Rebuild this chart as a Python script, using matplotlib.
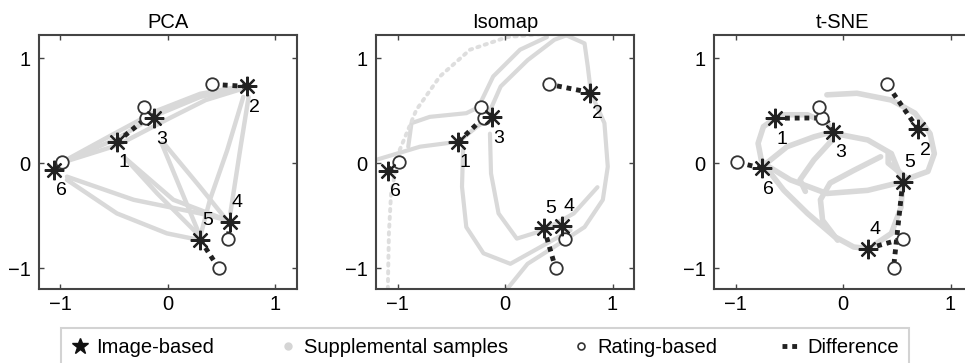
import matplotlib
matplotlib.use('Agg')
import matplotlib.pyplot as plt
from matplotlib.lines import Line2D

plt.rcParams['font.family'] = ['Liberation Sans', 'DejaVu Sans']

# point ids and where their number goes
point_ids = ['1', '2', '3', '4', '5', '6']
label_side = ['below', 'below', 'below', 'above', 'above', 'below']

# rating-based positions (same in every panel)
rate_x = [-0.20, 0.41, -0.22, 0.56, 0.47, -0.99]
rate_y = [0.43, 0.75, 0.53, -0.72, -1.00, 0.01]

# image-based positions per method
pca_x = [-0.475, 0.735, -0.127, 0.575, 0.30, -1.056]
pca_y = [0.20, 0.73, 0.427, -0.56, -0.73, -0.067]
iso_x = [-0.434, 0.794, -0.122, 0.534, 0.363, -1.084]
iso_y = [0.204, 0.672, 0.436, -0.60, -0.62, -0.076]
tsne_x = [-0.63, 0.70, -0.09, 0.23, 0.556, -0.756]
tsne_y = [0.427, 0.32, 0.30, -0.815, -0.178, -0.05]

# supplemental sample tracks
pca_tracks = [
    ([-1.0, -0.47, 0.0, 0.35, 0.73], [0.0, 0.17, 0.42, 0.60, 0.72]),
    ([-1.0, -0.48, -0.1, 0.3, 0.73], [0.0, 0.23, 0.46, 0.63, 0.73]),
    ([-1.0, -0.5, -0.1, 0.3, 0.73], [0.0, 0.28, 0.50, 0.66, 0.74]),
    ([-0.94, -0.475, -0.01, 0.30], [-0.16, -0.48, -0.67, -0.735]),
    ([-0.94, -0.32, 0.30, 0.55], [-0.13, -0.35, -0.48, -0.545]),
    ([-0.41, -0.10, 0.30], [0.06, -0.29, -0.70]),
    ([-0.38, 0.05, 0.55], [0.03, -0.35, -0.545]),
    ([-0.06, 0.11, 0.30], [0.19, -0.23, -0.70]),
    ([-0.04, 0.30, 0.52], [0.19, -0.23, -0.51]),
    ([0.70, 0.55, 0.39, 0.30], [0.63, 0.12, -0.35, -0.70]),
    ([0.75, 0.67, 0.58], [0.63, 0.12, -0.48]),
]

iso_tracks = [
    ([-1.2, -0.79, -0.43, -0.26, -0.12], [0.03, 0.156, 0.204, 0.347, 0.436]),
    ([-0.90, -0.87, -0.70, -0.36, -0.23], [0.156, 0.38, 0.44, 0.475, 0.54]),
    ([-0.15, -0.04, 0.21, 0.46, 0.58], [0.475, 0.73, 0.98, 1.175, 1.22]),
    ([-0.26, -0.11, 0.14, 0.39], [0.506, 0.825, 1.08, 1.2]),
    ([0.52, 0.74, 0.77, 0.80, 0.925, 0.956, 0.91, 0.74, 0.456, 0.21, 0.02],
     [1.24, 1.14, 0.92, 0.665, 0.38, -0.035, -0.35, -0.61, -0.80, -0.96, -1.2]),
    ([-0.14, -0.13, -0.06, 0.11, 0.36, 0.64, 0.86], [0.28, -0.10, -0.48, -0.72, -0.64, -0.48, -0.23]),
    ([-0.39, -0.40, -0.36, -0.20, 0.05, 0.33, 0.61], [0.124, -0.226, -0.61, -0.86, -0.96, -0.80, -0.64]),
]
iso_dotted_x = [-1.09, -1.08, -1.06, -0.98, -0.825, -0.606, -0.325, 0.02, 0.456]
iso_dotted_y = [-1.2, -0.67, -0.29, 0.124, 0.506, 0.825, 1.08, 1.2, 1.24]

tsne_tracks = [
    ([-0.15, 0.13, 0.45, 0.67, 0.81, 0.85, 0.79, 0.60, 0.42, 0.42],
     [0.65, 0.665, 0.60, 0.475, 0.28, 0.09, -0.08, -0.15, 0.0, 0.09]),
    ([-0.63, -0.74, -0.79, -0.76, -0.71], [0.427, 0.347, 0.188, 0.03, -0.035]),
    ([-0.71, -0.55, -0.33, -0.08, 0.10, 0.23], [-0.05, -0.26, -0.48, -0.70, -0.80, -0.815]),
    ([-0.69, -0.49, -0.15, 0.23, 0.556], [-0.035, -0.16, -0.29, -0.26, -0.178]),
    ([-0.58, -0.33, -0.15, -0.09], [0.46, 0.46, 0.38, 0.30]),
    ([-0.71, -0.52, -0.27, -0.09], [0.0, 0.156, 0.25, 0.30]),
    ([-0.02, 0.23, 0.45, 0.556], [0.27, 0.22, 0.09, -0.178]),
    ([-0.10, -0.27, -0.40, -0.35], [0.22, 0.03, -0.16, -0.27]),
    ([0.35, 0.10, -0.12, -0.21, -0.19, -0.05], [0.06, -0.07, -0.19, -0.35, -0.545, -0.735]),
    ([0.29, 0.45, 0.54, 0.556], [-0.78, -0.67, -0.42, -0.178]),
]

titles = ['PCA', 'Isomap', 't-SNE']
legend_labels = ['Image-based', 'Supplemental samples', 'Rating-based', 'Difference']

FS = 14.5
GRAY = '#d9d9d9'
DARK = '#222222'

fig = plt.figure(figsize=(9.65, 3.63), dpi=100)
lefts = [39, 376, 714]

panels = [
    (pca_x, pca_y, pca_tracks, 3.2),
    (iso_x, iso_y, iso_tracks, 3.0),
    (tsne_x, tsne_y, tsne_tracks, 4.0),
]

for k, (img_x, img_y, tracks, tw) in enumerate(panels):
    ax = fig.add_axes([lefts[k] / 965, 74 / 363, 258 / 965, 254 / 363])
    for cx, cy in tracks:
        ax.plot(cx, cy, color=GRAY, lw=tw, solid_capstyle='round',
                solid_joinstyle='round', zorder=1)
    if k == 1:
        ax.plot(iso_dotted_x, iso_dotted_y, color='#dedede', lw=2.8,
                ls=(0, (0.6, 1.4)), dash_capstyle='round', zorder=1)
    # difference lines
    for i in range(len(point_ids)):
        ax.plot([img_x[i], rate_x[i]], [img_y[i], rate_y[i]], color=DARK,
                lw=3.5, ls=(0, (1, 1)), zorder=2)
    ax.plot(rate_x, rate_y, ls='none', marker='o', ms=9, mfc='white',
            mec='#333333', mew=1.3, zorder=3)
    ax.plot(img_x, img_y, ls='none', marker=(8, 2, 0), ms=14, color=DARK,
            mew=1.6, zorder=4)
    for i, lab in enumerate(point_ids):
        dy = -15 if label_side[i] == 'below' else 14
        ax.annotate(lab, (img_x[i], img_y[i]), xytext=(5, dy),
                    textcoords='offset points', ha='center', va='center',
                    fontsize=14, zorder=5)
    ax.set_xlim(-1.2, 1.2)
    ax.set_ylim(-1.2, 1.22)
    ax.set_xticks([-1, 0, 1])
    ax.set_yticks([-1, 0, 1])
    ax.tick_params(direction='in', top=True, right=True, length=3.5,
                   width=1, color='#444444', labelsize=FS)
    ax.tick_params(axis='x', pad=4)
    ax.tick_params(axis='y', pad=6)
    for sp in ax.spines.values():
        sp.set_color('#444444')
        sp.set_linewidth(1.5)
    ax.set_title(titles[k], fontsize=FS, pad=5)

handles = [
    Line2D([], [], ls='none', marker='*', ms=12, color='#111111'),
    Line2D([], [], ls='none', marker='o', ms=5, color='#d5d5d5'),
    Line2D([], [], ls='none', marker='o', ms=5, mfc='white', mec='#333333', mew=1.2),
    Line2D([], [], color=DARK, lw=3.5, ls=(0, (1, 1))),
]
leg = fig.legend(handles, legend_labels, loc='upper left',
                 bbox_to_anchor=(61 / 965, 1 - 328 / 363),
                 ncol=4, frameon=True, fancybox=False,
                 edgecolor='#c8c8c8', fontsize=FS, borderaxespad=0,
                 handlelength=0.9, handletextpad=0.35, borderpad=0.5,
                 columnspacing=3.2)
leg.get_frame().set_linewidth(1.5)

fig.savefig('out.png', dpi=100)
